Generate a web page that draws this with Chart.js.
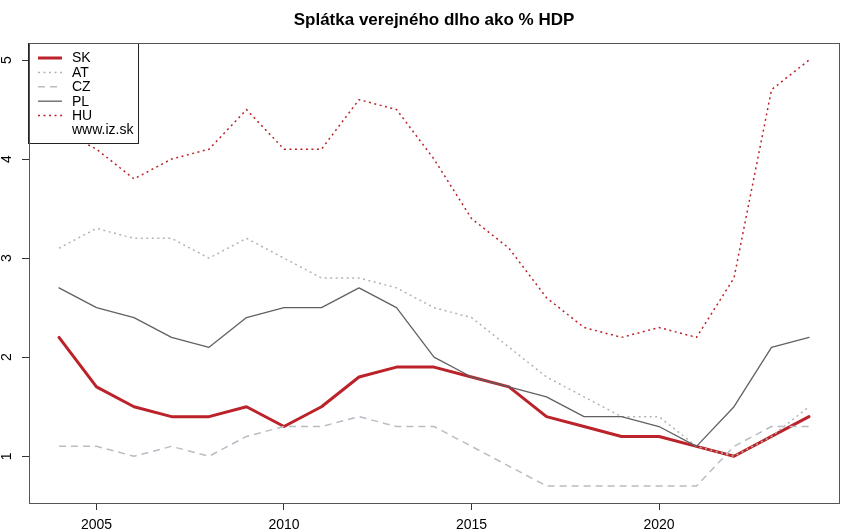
<!DOCTYPE html>
<html lang="sk">
<head>
  <meta charset="UTF-8">
  <title>Splátka verejného dlho ako % HDP</title>
  <style>
    body { margin: 0; padding: 0; background: #fff; }
    .chart-box { width: 850px; height: 532px; }
  </style>
</head>
<body>
  <div class="chart-box">
    <canvas id="lineChart" width="850" height="532"></canvas>
  </div>

  <script src="https://cdn.jsdelivr.net/npm/chart.js"></script>
  <script>
    // roky a hodnoty (% HDP)
    const years = [2004, 2005, 2006, 2007, 2008, 2009, 2010, 2011, 2012, 2013, 2014,
                   2015, 2016, 2017, 2018, 2019, 2020, 2021, 2022, 2023, 2024];
    const sk = [2.2, 1.7, 1.5, 1.4, 1.4, 1.5, 1.3, 1.5, 1.8, 1.9, 1.9, 1.8, 1.7, 1.4, 1.3, 1.2, 1.2, 1.1, 1.0, 1.2, 1.4];
    const at = [3.1, 3.3, 3.2, 3.2, 3.0, 3.2, 3.0, 2.8, 2.8, 2.7, 2.5, 2.4, 2.1, 1.8, 1.6, 1.4, 1.4, 1.1, 1.0, 1.2, 1.5];
    const cz = [1.1, 1.1, 1.0, 1.1, 1.0, 1.2, 1.3, 1.3, 1.4, 1.3, 1.3, 1.1, 0.9, 0.7, 0.7, 0.7, 0.7, 0.7, 1.1, 1.3, 1.3];
    const pl = [2.7, 2.5, 2.4, 2.2, 2.1, 2.4, 2.5, 2.5, 2.7, 2.5, 2.0, 1.8, 1.7, 1.6, 1.4, 1.4, 1.3, 1.1, 1.5, 2.1, 2.2];
    const hu = [4.3, 4.1, 3.8, 4.0, 4.1, 4.5, 4.1, 4.1, 4.6, 4.5, 4.0, 3.4, 3.1, 2.6, 2.3, 2.2, 2.3, 2.2, 2.8, 4.7, 5.0];

    const xTicks = [2005, 2010, 2015, 2020];
    const yTicks = [1, 2, 3, 4, 5];
    const legendLabels = ['SK', 'AT', 'CZ', 'PL', 'HU'];
    const source = 'www.iz.sk';
    const title = 'Splátka verejného dlho ako % HDP';

    const FONT = '"Liberation Sans", Arial, sans-serif';

    const styles = [
      { color: '#bb2229', width: 3,   dash: [] },
      { color: '#b3b3b3', width: 1.5, dash: [2, 3.5] },
      { color: '#b9bcc4', width: 1.5, dash: [7, 5] },
      { color: '#616161', width: 1.3, dash: [] },
      { color: '#bb2229', width: 1.5, dash: [2, 3.5] }
    ];

    const toPoints = vals => years.map((y, i) => ({ x: y, y: vals[i] }));
    const series = [sk, at, cz, pl, hu];

    const datasets = series.map((vals, i) => ({
      label: legendLabels[i],
      data: toPoints(vals),
      borderColor: styles[i].color,
      borderWidth: styles[i].width,
      borderDash: styles[i].dash,
      borderJoinStyle: 'round',
      borderCapStyle: styles[i].dash.length ? 'butt' : 'round',
      pointRadius: 0,
      tension: 0,
      fill: false,
      order: 5 - i   // SK pod ostatnými
    }));

    // titulok, rámik, popisy osí a legenda
    const rStyle = {
      id: 'rStyle',
      afterDatasetsDraw(chart) {
        const { ctx, chartArea: a, scales } = chart;
        ctx.save();

        // legenda
        const lx = 28, ly = 43, lw = 110, lh = 100;
        ctx.fillStyle = '#fff';
        ctx.fillRect(lx, ly, lw, lh);
        ctx.strokeStyle = '#222';
        ctx.lineWidth = 1;
        ctx.strokeRect(lx + 0.5, ly + 0.5, lw, lh);
        ctx.font = '14px ' + FONT;
        ctx.textBaseline = 'middle';
        ctx.textAlign = 'left';
        const labels = legendLabels.concat([source]);
        labels.forEach((lab, i) => {
          const y = 58 + i * 14.4;
          if (i < styles.length) {
            ctx.beginPath();
            ctx.strokeStyle = styles[i].color;
            ctx.lineWidth = styles[i].width;
            ctx.setLineDash(styles[i].dash);
            ctx.moveTo(38, y);
            ctx.lineTo(62, y);
            ctx.stroke();
            ctx.setLineDash([]);
          }
          ctx.fillStyle = '#000';
          ctx.fillText(lab, 72, y + 0.5);
        });

        // rámik grafu
        ctx.strokeStyle = '#555';
        ctx.lineWidth = 1;
        ctx.strokeRect(Math.round(a.left) + 0.5, Math.round(a.top) + 0.5,
                       Math.round(a.right - a.left), Math.round(a.bottom - a.top));

        // titulok
        ctx.fillStyle = '#000';
        ctx.font = 'bold 17px ' + FONT;
        ctx.textAlign = 'center';
        ctx.textBaseline = 'middle';
        ctx.fillText(title, (a.left + a.right) / 2, 20);

        // popisy osi x
        ctx.font = '14px ' + FONT;
        xTicks.forEach(v => {
          ctx.fillText(String(v), scales.x.getPixelForValue(v), 525);
        });

        // popisy osi y (otočené)
        yTicks.forEach(v => {
          ctx.save();
          ctx.translate(7, scales.y.getPixelForValue(v));
          ctx.rotate(-Math.PI / 2);
          ctx.fillText(String(v), 0, 0);
          ctx.restore();
        });

        ctx.restore();
      }
    };

    new Chart(document.getElementById('lineChart').getContext('2d'), {
      type: 'line',
      data: { datasets: datasets },
      options: {
        responsive: false,
        animation: false,
        layout: { padding: { top: 43, right: 11, left: 0, bottom: 0 } },
        plugins: {
          legend: { display: false },
          title: { display: false },
          tooltip: { enabled: false }
        },
        scales: {
          x: {
            type: 'linear',
            min: 2003.2,
            max: 2024.8,
            afterBuildTicks: s => { s.ticks = xTicks.map(v => ({ value: v })); },
            afterFit: s => { s.height = 29; },
            ticks: { display: false },
            border: { display: false },
            grid: { drawOnChartArea: false, drawTicks: true, tickLength: 7, color: '#333' }
          },
          y: {
            type: 'linear',
            min: 0.528,
            max: 5.172,
            afterBuildTicks: s => { s.ticks = yTicks.map(v => ({ value: v })); },
            afterFit: s => { s.width = 29; },
            ticks: { display: false },
            border: { display: false },
            grid: { drawOnChartArea: false, drawTicks: true, tickLength: 7, color: '#333' }
          }
        }
      },
      plugins: [rStyle]
    });
  </script>
</body>
</html>
